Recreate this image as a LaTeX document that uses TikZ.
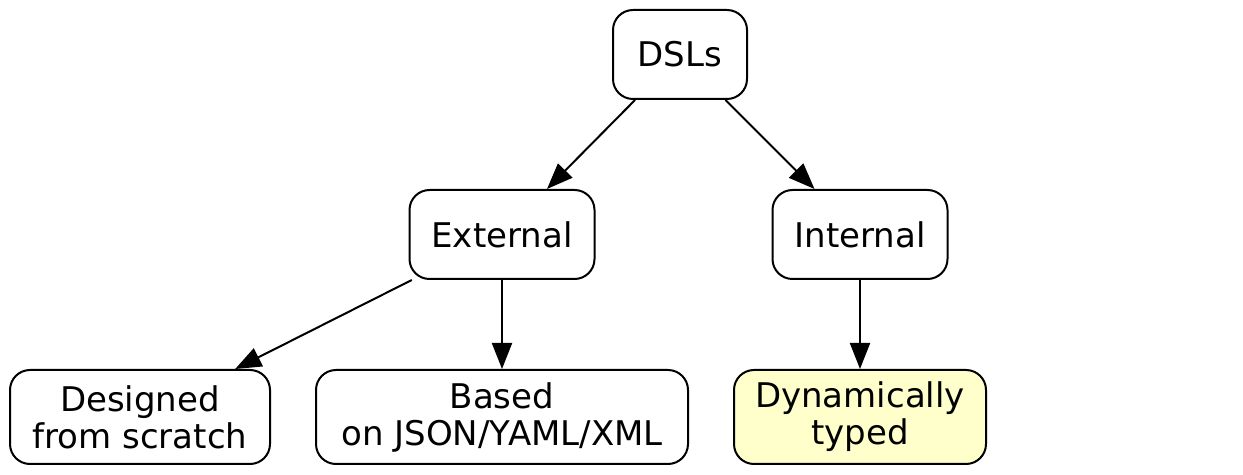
\documentclass[tikz,border=0pt]{standalone}
\usepackage{fontspec}
\setmainfont{DejaVu Sans}
\usetikzlibrary{arrows.meta}
\definecolor{dynfill}{HTML}{FFFFCC}
\tikzset{
  dslbox/.style={draw, line width=1pt, rounded corners=10pt, align=center,
    inner sep=0pt, minimum height=44.5pt,
    font=\fontsize{17}{18.5}\selectfont},
  tallbox/.style={dslbox, minimum height=47pt},
  dslarrow/.style={-{Triangle[length=13pt,width=10pt]}, line width=1pt}
}
\begin{document}
\begin{tikzpicture}[x=0.5pt,y=-0.5pt]
    \useasboundingbox (0,0) rectangle (1243,475);

    \node [dslbox, minimum width=67pt] (dsls) at (680,54.5) {DSLs};
    \node [dslbox, minimum width=92.5pt] (external) at (502,234.5) {External};
    \node [dslbox, minimum width=87.5pt] (internal) at (860,234.5) {Internal};

    \node [tallbox, minimum width=130pt] (scratch) at (140,417) {Designed\\from scratch};
    \node [tallbox, minimum width=186pt] (based) at (502,417) {Based\\on JSON/YAML/XML};
    \node [tallbox, minimum width=126pt, fill=dynfill] (dynamic) at (860,417) {Dynamically\\typed};

    \draw [dslarrow] (dsls) -- (external);
    \draw [dslarrow] (dsls) -- (internal);
    \draw [dslarrow] (external) -- (scratch);
    \draw [dslarrow] (external) -- (based);
    \draw [dslarrow] (internal) -- (dynamic);
\end{tikzpicture}
\end{document}
